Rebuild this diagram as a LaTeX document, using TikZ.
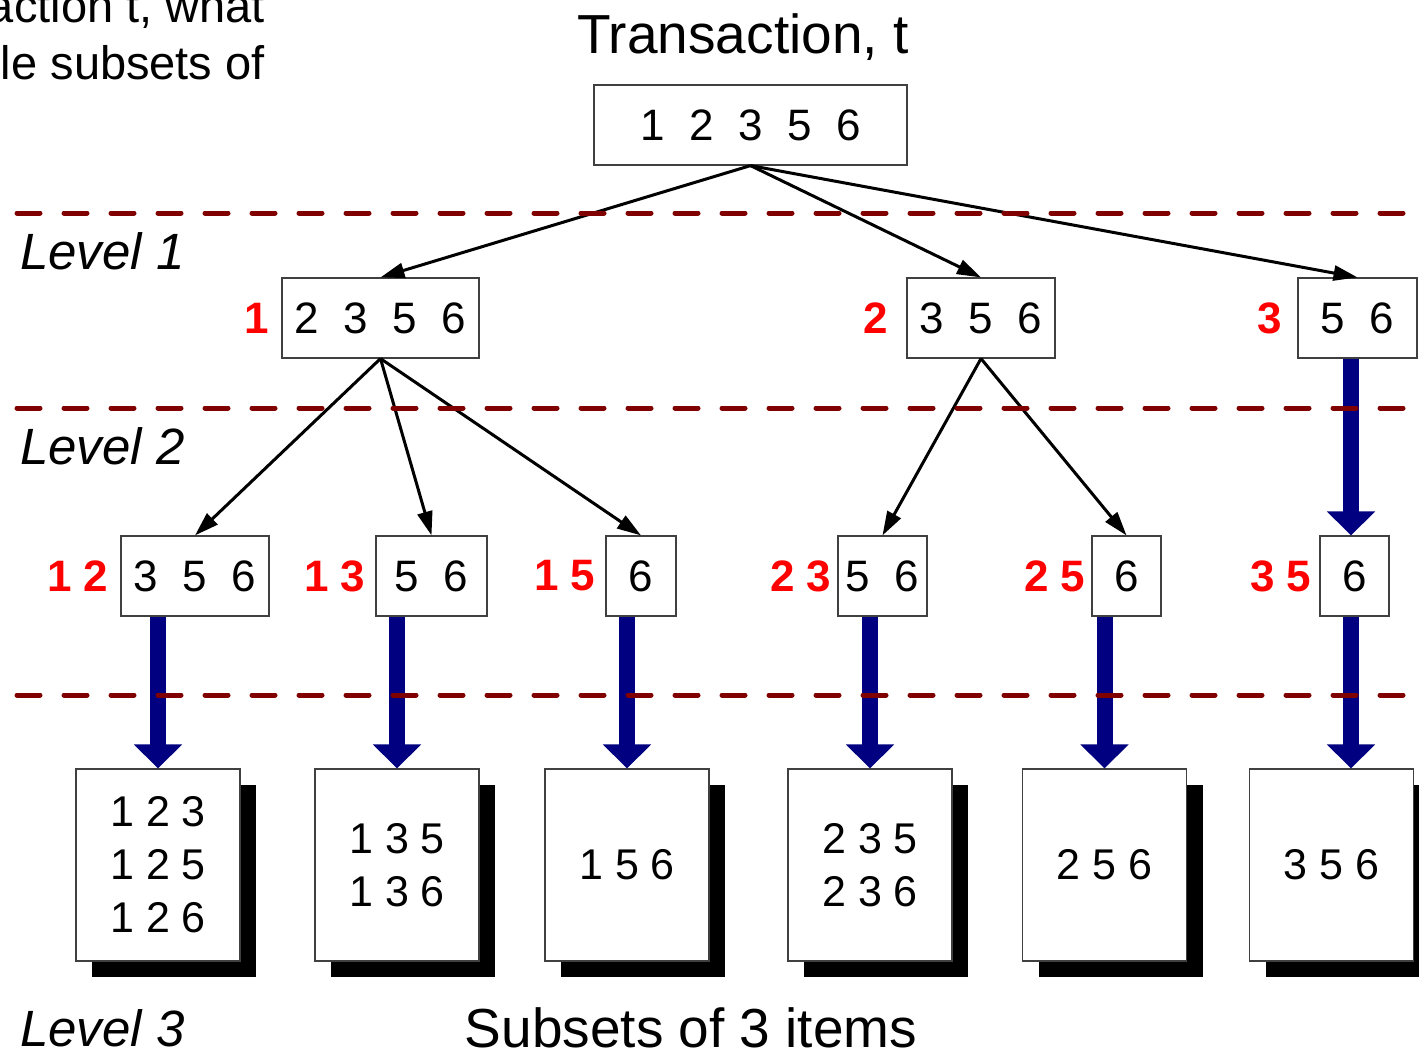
\documentclass[tikz,border=0pt]{standalone}
\usepackage{fontspec}
\setmainfont{Liberation Sans}
\usetikzlibrary{arrows.meta,shadows}
\definecolor{dashred}{RGB}{128,0,0}
\definecolor{navyblue}{RGB}{0,0,128}
\definecolor{lblred}{RGB}{255,0,0}
\begin{document}
\begin{tikzpicture}[x=1pt,y=-1pt,
  box/.style={draw=black!75, line width=1.2pt, fill=white, inner sep=0pt, minimum height=80pt, font=\fontsize{44}{53}\selectfont},
  lbl/.style={text=lblred, font=\fontsize{44}{53}\selectfont\bfseries, inner sep=0pt, anchor=east},
  leaf/.style={draw=black!75, line width=1.2pt, fill=white, inner sep=0pt, minimum width=164pt, minimum height=192pt, align=center, font=\fontsize{43}{53}\selectfont, general shadow={fill=black, shadow xshift=16pt, shadow yshift=-16pt}},
  blkarrow/.style={line width=3pt, -{Triangle[length=24pt,width=15pt]}},
  bluearrow/.style={line width=16pt, navyblue, -{Triangle[length=24pt,width=47pt]}},
  dline/.style={dashred, line width=5pt, line cap=round, dash pattern=on 23pt off 24pt},
  bigtxt/.style={font=\fontsize{55}{60}\selectfont, inner sep=0pt, anchor=base},
  levtxt/.style={font=\fontsize{51}{58}\selectfont\itshape, inner sep=0pt, anchor=base west},
  cuttxt/.style={font=\fontsize{47}{56}\selectfont, inner sep=0pt, anchor=base east}
]
\clip (0,0) rectangle (1419,1055);
\fill[white] (0,0) rectangle (1419,1055);

% corner text (cut off)
\node[cuttxt] (c1) at (265,22) {action t, what};
\node[cuttxt] (c2) at (265,79) {le subsets of};

% titles
\node[bigtxt] (title) at (743,53) {Transaction, t};
\node[bigtxt] (subs) at (691,1047) {Subsets of 3 items};

% level labels
\node[levtxt] (lv1) at (20,269) {Level 1};
\node[levtxt] (lv2) at (20,464) {Level 2};
\node[levtxt] (lv3) at (20,1046) {Level 3};

% top box
\node[box, minimum width=313pt] (T) at (750.5,125) {1~~2~~3~~5~~6};

% level 1
\node[box, minimum width=197pt] (A) at (380.5,318) {2~~3~~5~~6};
\node[box, minimum width=148pt] (B) at (981,318) {3~~5~~6};
\node[box, minimum width=119pt] (C) at (1357.5,318) {5~~6};

% level 2
\node[box, minimum width=148pt] (D) at (195,576) {3~~5~~6};
\node[box, minimum width=111pt] (E) at (431.5,576) {5~~6};
\node[box, minimum width=70pt] (F) at (641,576) {6};
\node[box, minimum width=89pt] (G) at (882.5,576) {5~~6};
\node[box, minimum width=69pt] (H) at (1126.5,576) {6};
\node[box, minimum width=69pt] (I) at (1354.5,576) {6};

% red labels
\node[lbl, xshift=-12pt] (lA) at (A.west) {1};
\node[lbl, xshift=-18pt] (lB) at (B.west) {2};
\node[lbl, xshift=-15pt] (lC) at (C.west) {3};
\node[lbl, xshift=-12pt] (lD) at (D.west) {1 2};
\node[lbl, xshift=-10pt] (lE) at (E.west) {1 3};
\node[lbl, xshift=-10pt] (lF) at (F.west) {1 5};
\node[lbl, xshift=-6pt] (lG) at (G.west) {2 3};
\node[lbl, xshift=-6pt] (lH) at (H.west) {2 5};
\node[lbl, xshift=-8pt] (lI) at (I.west) {3 5};

% level 3 leaves
\node[leaf] (J) at (158,865) {1 2 3\\1 2 5\\1 2 6};
\node[leaf] (K) at (397,865) {1 3 5\\1 3 6};
\node[leaf] (L) at (627,865) {1 5 6};
\node[leaf] (M) at (870,865) {2 3 5\\2 3 6};
\node[leaf] (N) at (1104.5,865) {2 5 6};
\node[leaf] (O) at (1331.5,865) {3 5 6};

% black arrows
\draw[blkarrow] (T.south) -- (A.north);
\draw[blkarrow] (T.south) -- (B.north);
\draw[blkarrow] (T.south) -- (C.north);
\draw[blkarrow] (A.south) -- (D.north);
\draw[blkarrow] (A.south) -- (E.north);
\draw[blkarrow] (A.south) -- (F.north);
\draw[blkarrow] (B.south) -- (G.north);
\draw[blkarrow] (B.south) -- (H.north);

% blue arrows
\draw[bluearrow] ([xshift=-3.5pt]I.north |- C.south) -- ([xshift=-3.5pt]I.north);
\draw[bluearrow] (D.south -| J.north) -- (J.north);
\draw[bluearrow] (E.south -| K.north) -- (K.north);
\draw[bluearrow] (F.south -| L.north) -- (L.north);
\draw[bluearrow] (G.south -| M.north) -- (M.north);
\draw[bluearrow] (H.south -| N.north) -- (N.north);
\draw[bluearrow] ([xshift=-3.5pt]I.south) -- ([xshift=-3.5pt]I.south |- O.north);

% dashed level separators
\draw[dline] (17,213) -- (1430,213);
\draw[dline] (17,408) -- (1430,408);
\draw[dline] (17,695) -- (1430,695);
\end{tikzpicture}
\end{document}
